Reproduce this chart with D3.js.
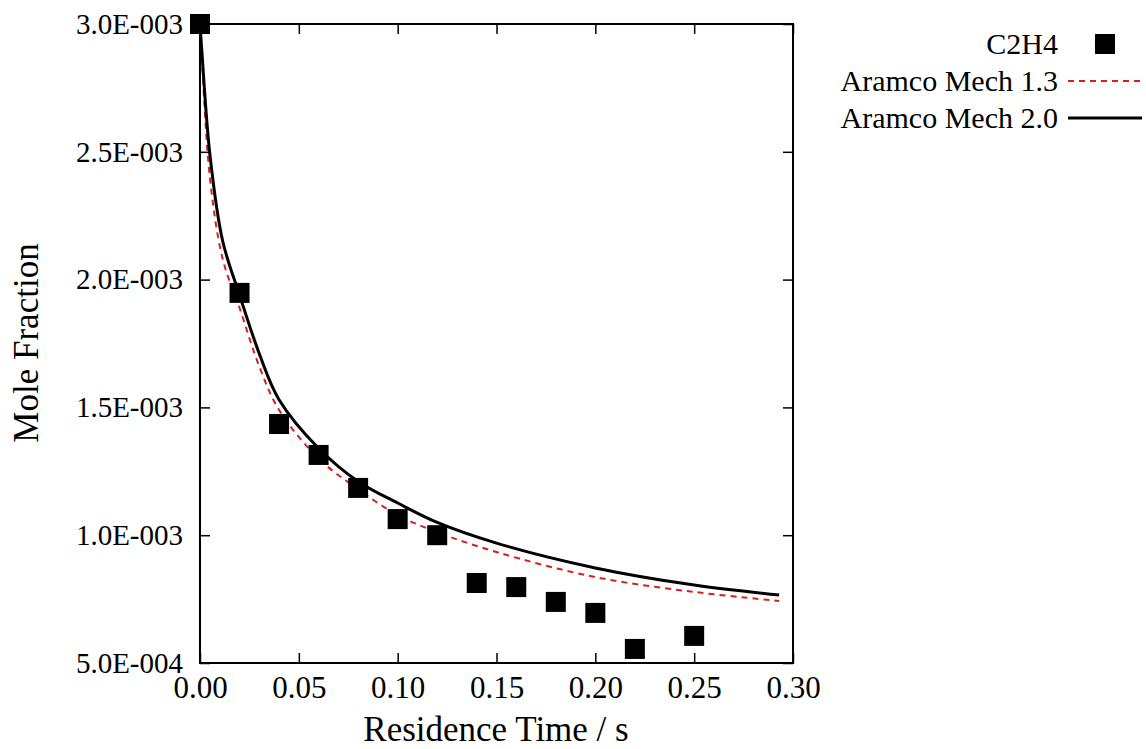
<!DOCTYPE html>
<html><head><meta charset="utf-8">
<script src="https://cdn.jsdelivr.net/npm/d3@7"></script>
<style>body{margin:0;background:#fff}text{font-family:"Liberation Serif","DejaVu Serif",serif;fill:#000}</style>
</head><body><svg id="c" width="1146" height="749"></svg>
<script>
var expTime = [0.0, 0.02, 0.04, 0.06, 0.08, 0.10, 0.12, 0.14, 0.16, 0.18, 0.20, 0.22, 0.25];
var expC2H4 = [3.0e-3, 1.948e-3, 1.435e-3, 1.314e-3, 1.185e-3, 1.063e-3, 1.0e-3, 0.813e-3, 0.797e-3, 0.739e-3, 0.696e-3, 0.555e-3, 0.606e-3];
var simTime = [0.0, 0.001, 0.005, 0.0115, 0.02, 0.03, 0.04, 0.06, 0.08, 0.10, 0.12, 0.15, 0.20, 0.25, 0.293];
var mech13 = [3.0e-3, 2.86e-3, 2.40e-3, 2.08e-3, 1.89e-3, 1.66e-3, 1.49e-3, 1.30e-3, 1.18e-3, 1.079e-3, 1.012e-3, 0.934e-3, 0.836e-3, 0.778e-3, 0.743e-3];
var mech20 = [3.0e-3, 2.886e-3, 2.49e-3, 2.15e-3, 1.94e-3, 1.71e-3, 1.53e-3, 1.34e-3, 1.21e-3, 1.126e-3, 1.05e-3, 0.969e-3, 0.872e-3, 0.805e-3, 0.766e-3];
var xTicks = [0, 0.05, 0.10, 0.15, 0.20, 0.25, 0.30];
var yTicks = [5e-4, 1e-3, 1.5e-3, 2e-3, 2.5e-3, 3e-3];

var svg = d3.select("#c");
var x = d3.scaleLinear().domain([0, 0.3]).range([200, 793]);
var y = d3.scaleLinear().domain([5e-4, 3e-3]).range([663, 24]);

svg.append("rect").attr("x", 200).attr("y", 24).attr("width", 593).attr("height", 639)
  .attr("fill", "none").attr("stroke", "#000").attr("stroke-width", 2);

var xa = svg.append("g").attr("transform", "translate(0,663)")
  .call(d3.axisBottom(x).tickValues(xTicks).tickSize(-10).tickPadding(12).tickFormat(d3.format(".2f")));
var xa2 = svg.append("g").attr("transform", "translate(0,24)")
  .call(d3.axisTop(x).tickValues(xTicks).tickSize(-10).tickFormat(""));
var ya = svg.append("g").attr("transform", "translate(200,0)")
  .call(d3.axisLeft(y).tickValues(yTicks).tickSize(-10).tickPadding(17)
    .tickFormat(function(d){ return (d*Math.pow(10, d < 1e-3 ? 4 : 3)).toFixed(1) + (d < 1e-3 ? "E-004" : "E-003"); }));
var ya2 = svg.append("g").attr("transform", "translate(793,0)")
  .call(d3.axisRight(y).tickValues(yTicks).tickSize(-10).tickFormat(""));
[xa, xa2, ya, ya2].forEach(function(a){
  a.select(".domain").remove();
  a.selectAll("line").attr("stroke", "#000").attr("stroke-width", 1.5);
  a.selectAll("text").style("font-size", "31px").attr("fill", "#000");
});
ya.selectAll("text").style("font-size", "29px");
xa.selectAll("text").attr("dy", "0.75em");

svg.append("text").attr("x", 496).attr("y", 741).attr("text-anchor", "middle").style("font-size", "35px").text("Residence Time / s");
svg.append("text").attr("transform", "translate(38,343) rotate(-90)").attr("text-anchor", "middle").style("font-size", "35px").text("Mole Fraction");

var line = d3.line().curve(d3.curveCatmullRom.alpha(0.5));
svg.append("clipPath").attr("id", "cl").append("rect").attr("x", 200).attr("y", 20).attr("width", 593).attr("height", 643);
svg.append("path").attr("clip-path", "url(#cl)")
  .attr("d", line(simTime.map(function(t, i){ return [x(t), y(mech13[i])]; })))
  .attr("fill", "none").attr("stroke", "#d62020").attr("stroke-width", 2).attr("stroke-dasharray", "6,5");
svg.append("path").attr("clip-path", "url(#cl)")
  .attr("d", line(simTime.map(function(t, i){ return [x(t), y(mech20[i])]; })))
  .attr("fill", "none").attr("stroke", "#000").attr("stroke-width", 3);

svg.selectAll(".pt").data(expTime).enter().append("rect")
  .attr("x", function(d){ return x(d) - 10; })
  .attr("y", function(d, i){ return y(expC2H4[i]) - 10; })
  .attr("width", 20).attr("height", 20).attr("fill", "#000");

var lg = [["C2H4", "sq"], ["Aramco Mech 1.3", "dash"], ["Aramco Mech 2.0", "solid"]];
lg.forEach(function(l, i){
  var ly = 44 + i * 37;
  svg.append("text").attr("x", 1058).attr("y", ly + 10).attr("text-anchor", "end").style("font-size", "30px").text(l[0]);
  if (l[1] === "sq") svg.append("rect").attr("x", 1095).attr("y", ly - 10).attr("width", 20).attr("height", 20).attr("fill", "#000");
  else svg.append("line").attr("x1", 1068).attr("x2", 1142).attr("y1", ly).attr("y2", ly)
    .attr("stroke", l[1] === "dash" ? "#d62020" : "#000").attr("stroke-width", l[1] === "dash" ? 2 : 3)
    .attr("stroke-dasharray", l[1] === "dash" ? "6,5" : null);
});
</script></body></html>
